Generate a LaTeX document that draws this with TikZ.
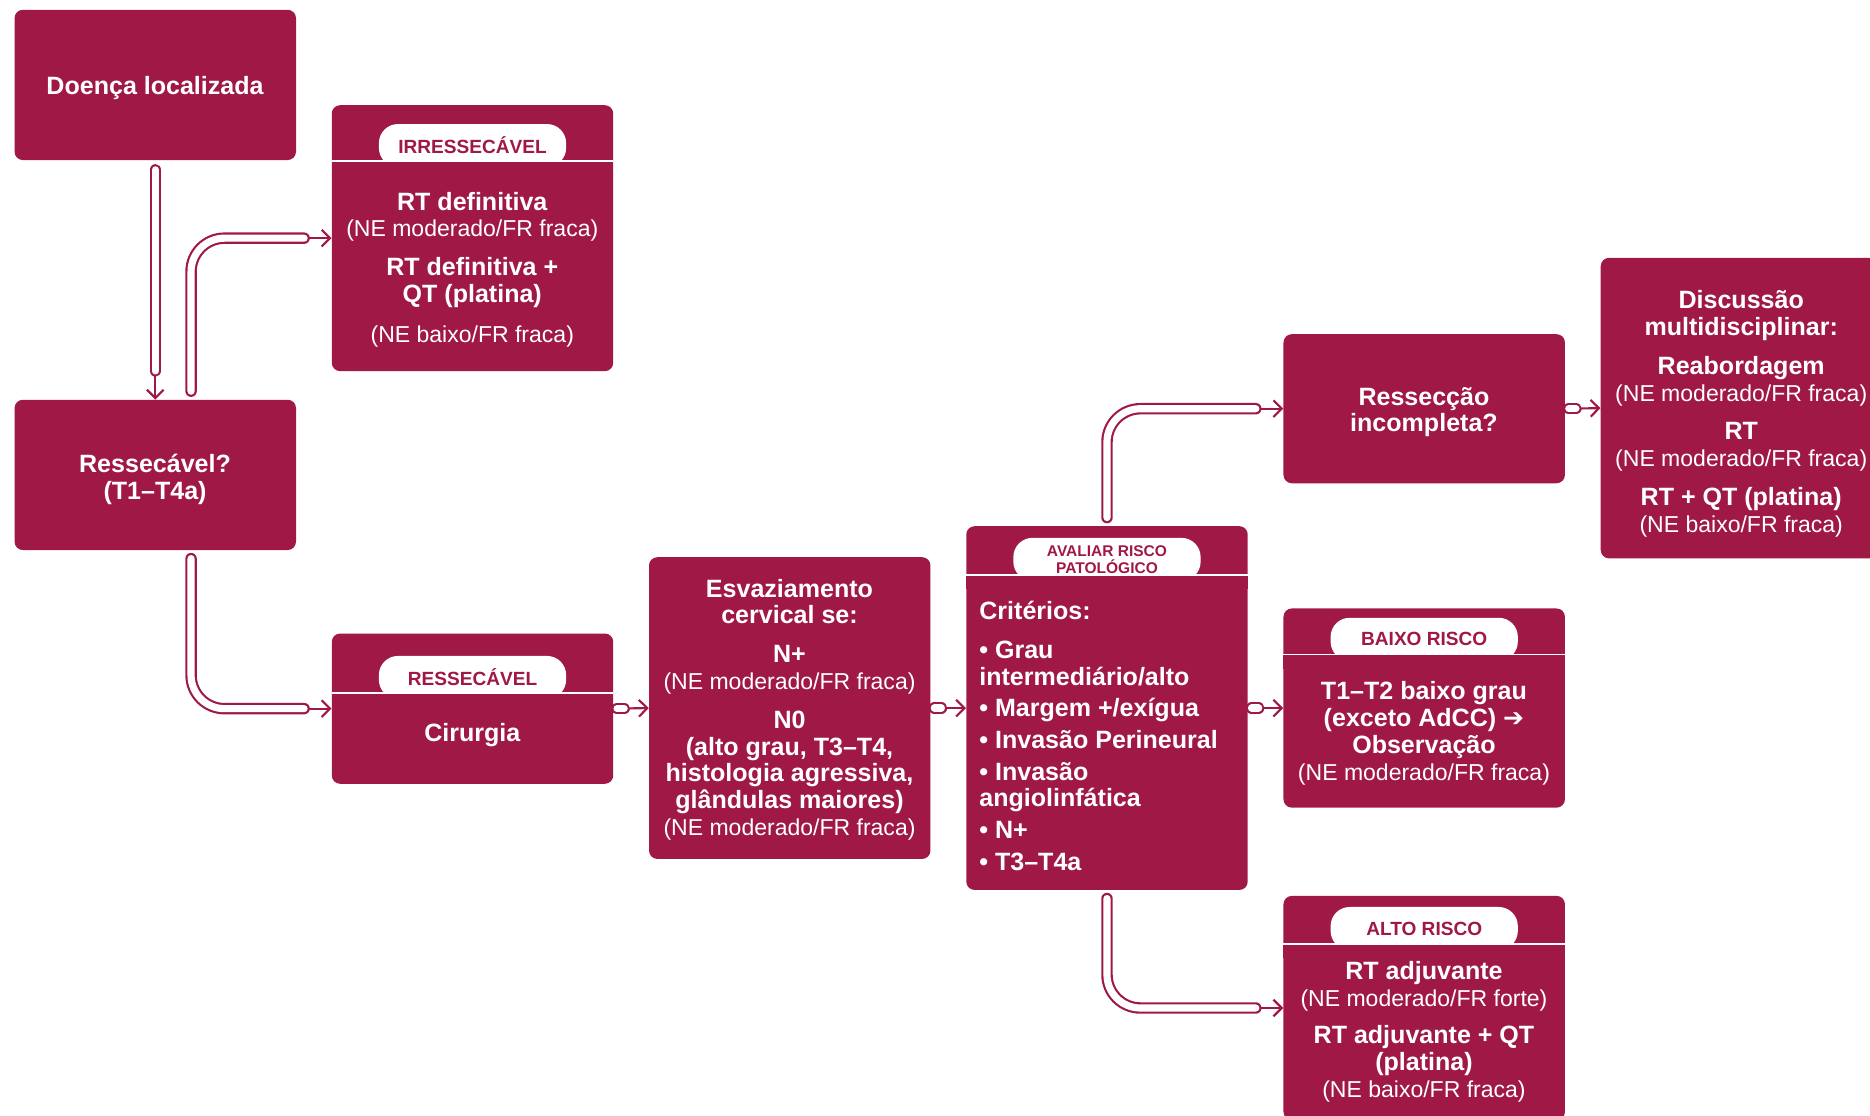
\documentclass[tikz,border=0pt]{standalone}
\usepackage{fontspec}
\setmainfont{Liberation Sans}
\newfontfamily\setas{DejaVu Sans}
\usepackage{tikz}
\usetikzlibrary{arrows.meta}
\definecolor{vinho}{HTML}{A01845}
\newcommand{\fonttitulo}{\fontsize{21}{22.5}\selectfont\bfseries}
\newcommand{\nota}[1]{{\fontsize{19.3}{22.5}\selectfont\mdseries #1}}
% pill label on top of a box, cut by a white rule
\newcommand{\cabeca}[4]{%
  \node[rotulo,#3] (#1-rot) at ([yshift={(13-#2)*1pt}]#1.north) {#4};
  \fill[vinho] ([yshift=-#2pt]#1.north west) rectangle ([yshift={-(#2+12)*1pt}]#1.north east);
  \draw[divisor] ([yshift=-#2pt]#1.north west) -- ([yshift=-#2pt]#1.north east);}

\begin{document}
\begin{tikzpicture}[x=1pt, y=-1pt, >={Straight Barb[length=7pt,width=14pt]},
    caixa/.style={fill=vinho, rounded corners=7pt, minimum width=236pt,
      minimum height=#1, inner sep=0pt, anchor=north west},
    texto/.style={text=white, align=center, inner sep=0pt, font=\fonttitulo},
    rotulo/.style={fill=white, text=vinho, rounded corners=16pt, minimum width=157pt,
      minimum height=36pt, inner sep=0pt, align=center,
      font=\fontsize{16}{17}\selectfont\bfseries},
    divisor/.style={draw=white, line width=1.2pt},
    tubo/.style={draw=vinho, line width=1.8pt, double=white, double distance=6pt,
      line cap=round, rounded corners=28pt},
    seta/.style={draw=vinho, line width=1.8pt, ->}]

    \useasboundingbox (0,0) rectangle (1568,935);
    \clip (0,0) rectangle (1568,935);

    % boxes
    \node[caixa=126] (doenca) at (12,8) {};
    \node[texto] (doenca-txt) at (130,74) {Doença localizada};

    \node[caixa=126] (ressec) at (12,335) {};
    \node[texto] (ressec-txt) at (130,402) {Ressecável?\\(T1–T4a)};

    \node[caixa=223] (irres) at (278,88) {};
    \cabeca{irres}{47}{}{IRRESSECÁVEL}
    \node[texto] (irres-txt) at (396,226) {RT definitiva\\\nota{(NE moderado/FR fraca)}\\[10pt]
      RT definitiva +\\QT (platina)\\[11pt]\nota{(NE baixo/FR fraca)}};

    \node[caixa=126] (cirurgia) at (278,531) {};
    \cabeca{cirurgia}{50}{}{RESSECÁVEL}
    \node[texto] (cirurgia-txt) at (396,616) {Cirurgia};

    \node[caixa=253] (esvaz) at (544,467) {};
    \node[texto] (esvaz-txt) at (662,595) {Esvaziamento\\cervical se:\\[10pt]
      N+\\\nota{(NE moderado/FR fraca)}\\[10pt]
      N0\\(alto grau, T3–T4,\\histologia agressiva,\\glândulas maiores)\\
      \nota{(NE moderado/FR fraca)}};

    \node[caixa=305] (avaliar) at (810,441) {};
    \cabeca{avaliar}{41}{font=\fontsize{13}{14}\selectfont\bfseries}{AVALIAR RISCO\\PATOLÓGICO}
    \node[texto, align=left, anchor=west] (avaliar-txt) at (821,617) {Critérios:\\[10pt]
      • Grau\\intermediário/alto\\[4pt]
      • Margem +/exígua\\[4pt]
      • Invasão Perineural\\[4pt]
      • Invasão\\angiolinfática\\[4pt]
      • N+\\[4pt]
      • T3–T4a};

    \node[caixa=125] (reseccao) at (1076,280) {};
    \node[texto] (reseccao-txt) at (1194,345.5) {Ressecção\\incompleta?};

    \node[caixa=252] (discussao) at (1342,216) {};
    \node[texto] (discussao-txt) at (1460,347) {Discussão\\multidisciplinar:\\[10pt]
      Reabordagem\\\nota{(NE moderado/FR fraca)}\\[10pt]
      RT\\\nota{(NE moderado/FR fraca)}\\[10pt]
      RT + QT (platina)\\\nota{(NE baixo/FR fraca)}};

    \node[caixa=167] (baixo) at (1076,510) {};
    \cabeca{baixo}{39}{}{BAIXO RISCO}
    \node[texto] (baixo-txt) at (1194,615) {T1–T2 baixo grau\\(exceto AdCC) {\setas ➔}\\
      Observação\\\nota{(NE moderado/FR fraca)}};

    \node[caixa=188] (alto) at (1076,751) {};
    \cabeca{alto}{40.5}{}{ALTO RISCO}
    \node[texto] (alto-txt) at (1194,865) {RT adjuvante\\\nota{(NE moderado/FR forte)}\\[9pt]
      RT adjuvante + QT\\(platina)\\\nota{(NE baixo/FR fraca)}};

    % connectors
    \draw[seta] ([yshift=24pt]ressec.north) -- (ressec.north);
    \draw[tubo] ([yshift=-8pt]doenca.south) -- ([yshift=24pt]ressec.north);

    \draw[seta] ([xshift=-23pt]irres.west) -- (irres.west);
    \draw[tubo] ([xshift=30pt,yshift=7pt]ressec.north) |- ([xshift=-23pt]irres.west);

    \draw[seta] ([xshift=-23pt]cirurgia.west) -- (cirurgia.west);
    \draw[tubo] ([xshift=30pt,yshift=-7pt]ressec.south) |- ([xshift=-23pt]cirurgia.west);

    \draw[seta] (cirurgia.east) -- (esvaz.west);
    \draw[tubo] ([xshift=3pt]cirurgia.east) -- ++(6,0);

    \draw[seta] (esvaz.east) -- (avaliar.west);
    \draw[tubo] ([xshift=3pt]esvaz.east) -- ++(6,0);

    \draw[seta] ([xshift=-23pt]reseccao.west) -- (reseccao.west);
    \draw[tubo] ([yshift=7pt]avaliar.north) |- ([xshift=-23pt]reseccao.west);

    \draw[seta] (avaliar.east) -- (baixo.west);
    \draw[tubo] ([xshift=3pt]avaliar.east) -- ++(6,0);

    \draw[seta] ([xshift=-23pt]alto.west) -- (alto.west);
    \draw[tubo] ([yshift=-7pt]avaliar.south) |- ([xshift=-23pt]alto.west);

    \draw[seta] (reseccao.east) -- (discussao.west);
    \draw[tubo] ([xshift=3pt]reseccao.east) -- ++(6,0);

\end{tikzpicture}
\end{document}
